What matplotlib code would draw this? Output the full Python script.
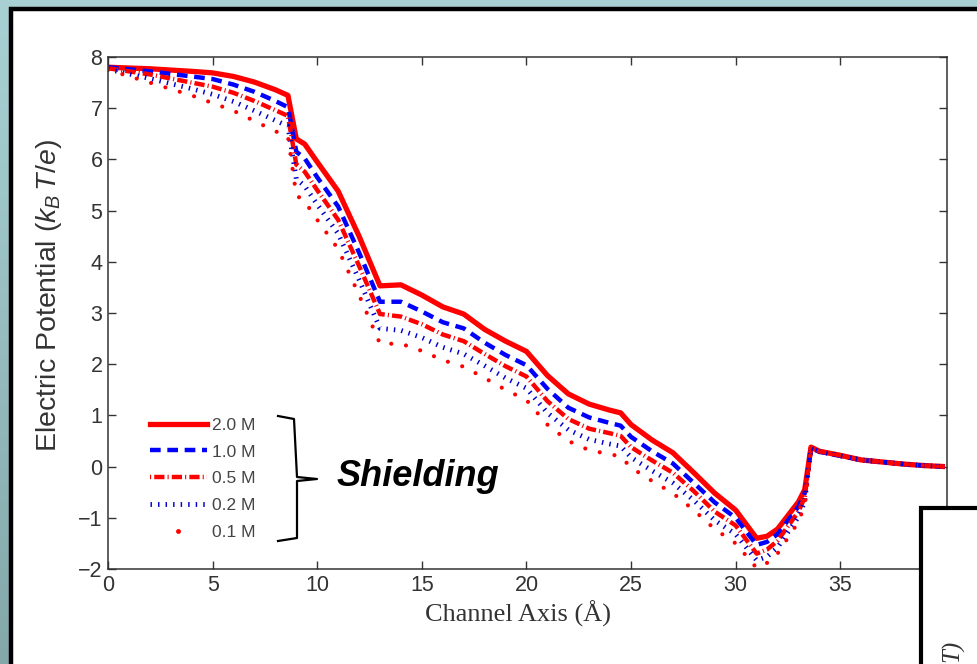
import numpy as np
import matplotlib
matplotlib.use("Agg")
import matplotlib.pyplot as plt
from matplotlib.lines import Line2D
from matplotlib.patches import Rectangle

plt.rcParams['font.family'] = ['Liberation Sans', 'DejaVu Sans']
plt.rcParams['mathtext.fontset'] = 'custom'
plt.rcParams['mathtext.it'] = 'Liberation Sans:italic'
plt.rcParams['mathtext.rm'] = 'Liberation Sans'

# channel axis positions (Angstrom)
x = [0, 2, 4, 5, 6, 7, 8, 8.6, 9.0, 9.4, 10, 11, 12, 13, 14, 15, 16, 17, 18, 19,
     20, 21, 22, 23, 24, 24.5, 25, 26, 27, 28, 29, 30, 31, 31.5, 32, 33, 33.3,
     33.6, 34, 35, 36, 37, 38, 39, 40]

# electric potential (kB T / e) for each concentration
pot_20 = [7.80, 7.77, 7.72, 7.69, 7.62, 7.51, 7.36, 7.25, 6.40, 6.30, 5.95, 5.38,
          4.50, 3.53, 3.55, 3.35, 3.12, 2.98, 2.68, 2.45, 2.25, 1.78, 1.42, 1.22,
          1.10, 1.05, 0.82, 0.52, 0.27, -0.12, -0.52, -0.85, -1.40, -1.36, -1.22,
          -0.69, -0.45, 0.38, 0.30, 0.22, 0.13, 0.09, 0.05, 0.02, 0.00]
pot_10 = [7.80, 7.72, 7.62, 7.57, 7.46, 7.32, 7.14, 7.02, 6.15, 6.02, 5.65, 5.08,
          4.18, 3.22, 3.22, 3.03, 2.82, 2.70, 2.42, 2.18, 1.98, 1.52, 1.15, 0.96,
          0.85, 0.80, 0.58, 0.30, 0.06, -0.32, -0.70, -1.00, -1.53, -1.47, -1.32,
          -0.78, -0.52, 0.36, 0.29, 0.21, 0.13, 0.09, 0.05, 0.02, 0.00]
pot_05 = [7.78, 7.66, 7.50, 7.42, 7.30, 7.14, 6.96, 6.85, 5.90, 5.76, 5.40, 4.82,
          3.92, 2.98, 2.93, 2.78, 2.58, 2.45, 2.20, 1.96, 1.76, 1.28, 0.93, 0.74,
          0.65, 0.60, 0.38, 0.12, -0.12, -0.48, -0.88, -1.15, -1.70, -1.62, -1.45,
          -0.88, -0.60, 0.38, 0.30, 0.22, 0.13, 0.09, 0.05, 0.02, 0.00]
pot_02 = [7.76, 7.58, 7.38, 7.27, 7.13, 6.95, 6.76, 6.65, 5.62, 5.48, 5.12, 4.55,
          3.65, 2.70, 2.66, 2.52, 2.33, 2.20, 1.97, 1.73, 1.53, 1.05, 0.72, 0.53,
          0.44, 0.40, 0.18, -0.08, -0.32, -0.66, -1.05, -1.32, -1.83, -1.76, -1.58,
          -0.98, -0.68, 0.36, 0.29, 0.21, 0.13, 0.09, 0.05, 0.02, 0.00]
pot_01 = [7.75, 7.50, 7.25, 7.10, 6.95, 6.75, 6.55, 6.45, 5.30, 5.18, 4.82, 4.25,
          3.35, 2.40, 2.40, 2.26, 2.08, 1.95, 1.73, 1.50, 1.30, 0.82, 0.50, 0.32,
          0.24, 0.20, -0.02, -0.28, -0.52, -0.85, -1.22, -1.50, -1.98, -1.88, -1.70,
          -1.08, -0.75, 0.35, 0.29, 0.21, 0.13, 0.09, 0.05, 0.02, 0.00]

labels = ['2.0 M', '1.0 M', '0.5 M', '0.2 M', '0.1 M']
xticks = [0, 5, 10, 15, 20, 25, 30, 35]
yticks = [-2, -1, 0, 1, 2, 3, 4, 5, 6, 7, 8]

W, H = 978, 664
fig = plt.figure(figsize=(W / 100, H / 100), dpi=100)

# slide background (teal gradient) and white panel
bg = fig.add_axes([0, 0, 1, 1], zorder=-2)
grad = np.linspace(0, 1, 256).reshape(-1, 1)
cmap = matplotlib.colors.LinearSegmentedColormap.from_list('bg', ['#a9d1d4', '#84a8aa'])
bg.imshow(grad, aspect='auto', cmap=cmap, extent=[0, 1, 0, 1])
bg.set_axis_off()
panel = Rectangle((11 / W, -0.05), 1.1, (H - 9) / H + 0.05, transform=fig.transFigure,
                  facecolor='white', edgecolor='black', linewidth=3.2, zorder=-1)
fig.add_artist(panel)

ax = fig.add_axes([108 / W, 1 - 569 / H, (947 - 108) / W, (569 - 57) / H])
ax.set_facecolor('none')

red = '#ff0000'
blue = '#0000ff'
ax.plot(x, pot_20, color=red, lw=3.8, solid_capstyle='butt')
ax.plot(x, pot_10, color=blue, lw=3.2, linestyle=(0, (2.4, 1.5)))
ax.plot(x, pot_05, color=red, lw=3.2, linestyle=(0, (2.3, 0.7, 0.25, 0.7)))
ax.plot(x, pot_02, color='#0000cc', lw=3.5, linestyle=(0, (0.3, 1.25)))
ax.plot(x, pot_01, color=red, lw=3.0, linestyle=(0, (0.001, 3.6)),
        dash_capstyle='round')

ax.set_xlim(0, 40.1)
ax.set_ylim(-2, 8)
ax.set_xticks(xticks)
ax.set_yticks(yticks)
ax.set_yticklabels([str(v).replace('-', '\u2212') for v in yticks])
ax.tick_params(direction='in', length=6, width=1, top=True, right=True,
               labelsize=15.5, colors='#333333', pad=4)
for s in ax.spines.values():
    s.set_color('#333333')
    s.set_linewidth(1.1)

ax.set_xlabel('Channel Axis (\u00c5)', family=['Liberation Serif', 'DejaVu Serif'],
              fontsize=19, color='#333333')
ax.xaxis.set_label_coords(0.489, -0.061)
ax.xaxis.label.set_va('top')
ax.set_ylabel('Electric Potential ($k_B\\,T/e$)', fontsize=20.5, color='#333333')
ax.yaxis.set_label_coords(-0.053, 0.535)

# legend
handles = [
    Line2D([], [], color=red, lw=3.8),
    Line2D([], [], color=blue, lw=3.2, linestyle=(0, (2.4, 1.5))),
    Line2D([], [], color=red, lw=3.2, linestyle=(0, (0.25, 0.7, 2.3, 0.7))),
    Line2D([], [], color='#0000cc', lw=3.5, linestyle=(0, (0.3, 1.25))),
    Line2D([], [], color=red, marker='.', markersize=5, linestyle='none'),
]
leg = ax.legend(handles, labels, loc='upper left', frameon=False, fontsize=12.5,
                handlelength=3.3, handletextpad=0.3, labelspacing=0.67,
                bbox_to_anchor=(134 / W, 1 - 402 / H), bbox_transform=fig.transFigure)
for t in leg.get_texts():
    t.set_color('#444444')

# bracket and annotation
bx = [278, 294, 297, 317, 297, 297, 278]
by = [416, 419, 477, 479, 481, 538, 541]
fig.add_artist(Line2D([v / W for v in bx], [1 - v / H for v in by],
                      transform=fig.transFigure, color='black', lw=1.6, zorder=5))
fig.text(337 / W, 1 - 477 / H, 'Shielding', fontsize=26, fontweight='bold',
         fontstyle='italic', va='center', ha='left')

# overlapping panel of next figure
box = Rectangle((921 / W, -0.05), 0.2, (H - 508) / H + 0.05, transform=fig.transFigure,
                facecolor='white', edgecolor='black', linewidth=3.0, zorder=6)
fig.add_artist(box)
fig.text(953 / W, 1 - 640 / H, 'T)', rotation=90, fontsize=18, fontstyle='italic',
         family=['Liberation Serif'], va='top', ha='center', zorder=7, color='#333333')

fig.savefig('out.png', dpi=100)
